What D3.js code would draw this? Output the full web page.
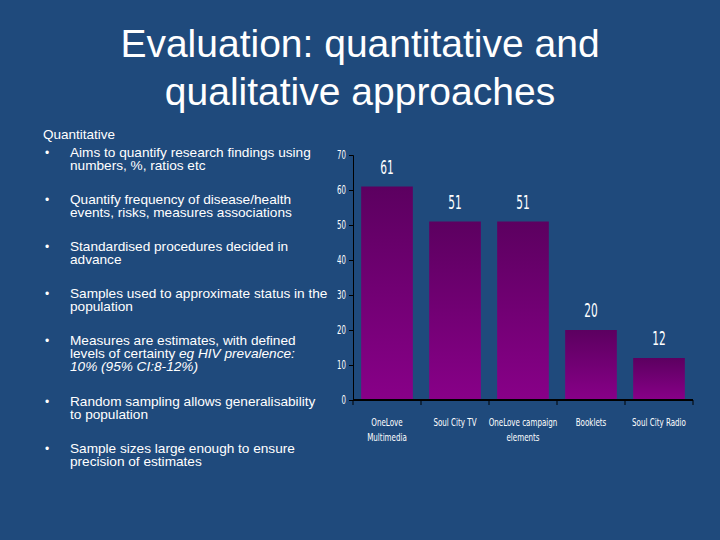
<!DOCTYPE html><html><head><meta charset="utf-8"><script src="https://cdn.jsdelivr.net/npm/d3@7"></script>
<style>body{margin:0;background:#1f4a7c}svg{display:block}</style></head><body><svg width="720" height="540"></svg>
<script>
const categories=[["OneLove","Multimedia"],["Soul City TV"],["OneLove campaign","elements"],["Booklets"],["Soul City Radio"]];
const values=[61,51,51,20,12];
const yTicks=[0,10,20,30,40,50,60,70];
const titleLines=["Evaluation: quantitative and","qualitative approaches"];
const bullets=[["Aims to quantify research findings using","numbers, %, ratios etc"],["Quantify frequency of disease/health","events, risks, measures associations"],["Standardised procedures decided in","advance"],["Samples used to approximate status in the","population"],["Measures are estimates, with defined","levels of certainty |eg HIV prevalence:","|10% (95% CI:8-12%)"],["Random sampling allows generalisability","to population"],["Sample sizes large enough to ensure","precision of estimates"]];
const svg=d3.select("svg");
svg.append("rect").attr("width",720).attr("height",540).attr("fill","#1f4a7c");
svg.selectAll(".t").data(titleLines).join("text").attr("x",360).attr("y",(d,i)=>57+i*48).attr("text-anchor","middle")
 .attr("fill","#fff").attr("font-family","Liberation Sans, Arial").attr("font-size",39).text(d=>d);
const tf="Liberation Sans, Arial";
svg.append("text").attr("x",43).attr("y",139).attr("fill","#fff").attr("font-family",tf).attr("font-size",13.5).text("Quantitative");
const starts=[157,204,251,298,345,406,453];
bullets.forEach((b,i)=>{
 svg.append("text").attr("x",45).attr("y",starts[i]).attr("fill","#fff").attr("font-size",12).attr("font-family",tf).text("•");
 b.forEach((l,j)=>{
  const t=svg.append("text").attr("transform",`translate(70,${starts[i]+j*13}) scale(1.1,1)`).attr("fill","#fff").attr("font-size",12.4).attr("font-family",tf);
  const parts=l.split("|");
  t.append("tspan").text(parts[0]);
  if(parts[1]!==undefined) t.append("tspan").attr("font-style","italic").text(parts[1]);
 });
});
const x=d3.scaleBand().domain(d3.range(values.length)).range([353,693]).paddingInner(0.24).paddingOuter(0.12);
const y=d3.scaleLinear().domain([0,70]).range([400,155]);
const g=svg.append("defs").append("linearGradient").attr("id","gr").attr("x1",0).attr("y1",0).attr("x2",0).attr("y2",1);
g.append("stop").attr("offset",0).attr("stop-color","#5c0060");
g.append("stop").attr("offset",1).attr("stop-color","#880088");
svg.selectAll(".bar").data(values).join("rect").attr("x",(d,i)=>x(i)).attr("width",x.bandwidth()).attr("y",d=>y(d)).attr("height",d=>y(0)-y(d)).attr("fill","url(#gr)");
const cf="DejaVu Sans Condensed, sans-serif";
function narrow(sel,cx,cy,s){return sel.attr("transform",`translate(${cx},${cy}) scale(${s},1)`).attr("x",0).attr("y",0);}
values.forEach((d,i)=>narrow(svg.append("text").attr("text-anchor","middle").attr("fill","#fff").attr("font-family",cf).attr("font-weight",300).attr("font-size",19).text(d),x(i)+x.bandwidth()/2,y(d)-13,0.62));
const ya=svg.append("g").attr("transform","translate(353,0)").call(d3.axisLeft(y).tickValues(yTicks).tickSize(4));
ya.select(".domain").attr("stroke","#000");ya.selectAll("line").attr("stroke","#000");
ya.selectAll("text").attr("fill","#fff").attr("font-family",cf).attr("font-size",12).attr("x",-7).attr("transform","scale(0.65,1)").attr("dx",-4);
svg.append("line").attr("x1",353).attr("x2",693).attr("y1",400).attr("y2",400).attr("stroke","#000").attr("stroke-width",2);
const step=x.step();
d3.range(values.length+1).forEach(i=>svg.append("line").attr("x1",353+i*step).attr("x2",353+i*step).attr("y1",400).attr("y2",405).attr("stroke","#000"));
categories.forEach((c,i)=>c.forEach((l,j)=>narrow(svg.append("text").attr("text-anchor","middle")
 .attr("fill","#fff").attr("font-family",cf).attr("font-size",11).text(l),x(i)+x.bandwidth()/2,426+j*15,0.72)));
</script></body></html>
